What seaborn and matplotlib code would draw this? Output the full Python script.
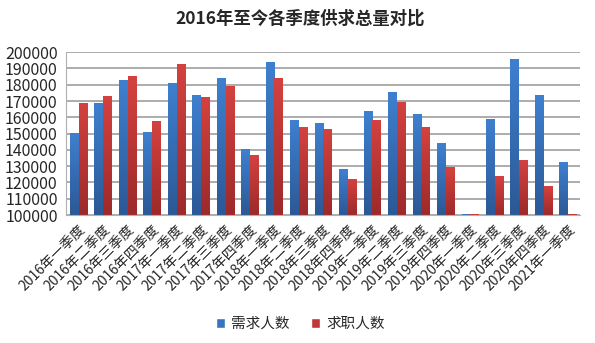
import numpy as np
import pandas as pd
import matplotlib
matplotlib.use("Agg")
import matplotlib.pyplot as plt
import seaborn as sns
from matplotlib.colors import LinearSegmentedColormap
from matplotlib.patches import Patch

quarters = ["2016年一季度", "2016年二季度", "2016年三季度", "2016年四季度",
            "2017年一季度", "2017年二季度", "2017年三季度", "2017年四季度",
            "2018年一季度", "2018年二季度", "2018年三季度", "2018年四季度",
            "2019年一季度", "2019年二季度", "2019年三季度", "2019年四季度",
            "2020年一季度", "2020年二季度", "2020年三季度", "2020年四季度",
            "2021年一季度"]
demand = [150300, 168200, 182800, 150500, 180500, 173300, 184000, 140200,
          193600, 157700, 156300, 127700, 163700, 175400, 161600, 143900,
          100500, 158500, 195300, 173300, 132000]
seekers = [168200, 172500, 185000, 157300, 192200, 171900, 179000, 136600,
           184000, 153400, 152200, 122000, 157900, 169000, 153400, 129400,
           100500, 123400, 133700, 117500, 100500]
series_names = ["需求人数", "求职人数"]
title = "2016年至今各季度供求总量对比"

df = pd.DataFrame({
    "quarter": quarters * 2,
    "value": demand + seekers,
    "series": [series_names[0]] * len(quarters) + [series_names[1]] * len(quarters),
})

sns.set_style("white")
plt.rcParams['font.family'] = ['Noto Sans CJK SC', 'DejaVu Sans']

fig = plt.figure(figsize=(5.95, 3.43), dpi=100)
ax = fig.add_axes([0.111, 0.373, 0.864, 0.475])

colors = {"需求人数": "#3674C2", "求职人数": "#C23838"}
sns.barplot(data=df, x="quarter", y="value", hue="series", hue_order=series_names,
            palette=colors, width=0.72, gap=0.08, ax=ax, saturation=1,
            linewidth=0, legend=True)

YMIN, YMAX = 100000, 200000
ax.set_ylim(YMIN, YMAX)
ax.set_xlim(-0.5, len(quarters) - 0.5)
ax.set_yticks(np.arange(YMIN, YMAX + 1, 10000))
ax.tick_params(axis='y', labelsize=11.5, length=0, pad=6)
ax.tick_params(axis='x', labelsize=10, length=0, pad=5)
ax.set_xticks(range(len(quarters)))
ax.set_xticklabels(quarters, rotation=45, ha='right', rotation_mode='anchor')
ax.set_xlabel("")
ax.set_ylabel("")
ax.yaxis.grid(True, color="#A6A6A6", linewidth=1.3)
ax.set_axisbelow(True)
for s in ["top", "right"]:
    ax.spines[s].set_visible(False)
ax.spines["left"].set_color("#B0B0B0")
ax.spines["bottom"].set_color("#B0B0B0")

# gradient fill on bars (visible part only)
grads = {
    "需求人数": LinearSegmentedColormap.from_list("b", ["#2C5895", "#3E80D0"]),
    "求职人数": LinearSegmentedColormap.from_list("r", ["#9C2A2A", "#D4423F"]),
}
gimg = np.linspace(0, 1, 256).reshape(-1, 1)
for i, cont in enumerate(ax.containers):
    name = series_names[i]
    for bar in cont:
        x0, w = bar.get_x(), bar.get_width()
        h = bar.get_height()
        bar.set_facecolor("none")
        if h <= YMIN:
            continue
        ax.imshow(gimg, extent=[x0, x0 + w, YMIN, h], origin='lower',
                  cmap=grads[name], aspect='auto', zorder=2, interpolation='bilinear')
ax.set_xlim(-0.5, len(quarters) - 0.5)
ax.set_ylim(YMIN, YMAX)

leg = ax.get_legend()
if leg is not None:
    leg.remove()
handles = [Patch(facecolor=colors[s], label=s) for s in series_names]
fig.legend(handles=handles, loc='center', bbox_to_anchor=(0.505, 0.056), ncol=2,
           frameon=False, fontsize=10.5, handlelength=0.6, handleheight=0.7,
           handletextpad=0.4, columnspacing=1.5)

fig.text(0.505, 0.945, title, ha='center', va='center', fontsize=12.5, fontweight='bold')

fig.savefig("out.png", dpi=100)
